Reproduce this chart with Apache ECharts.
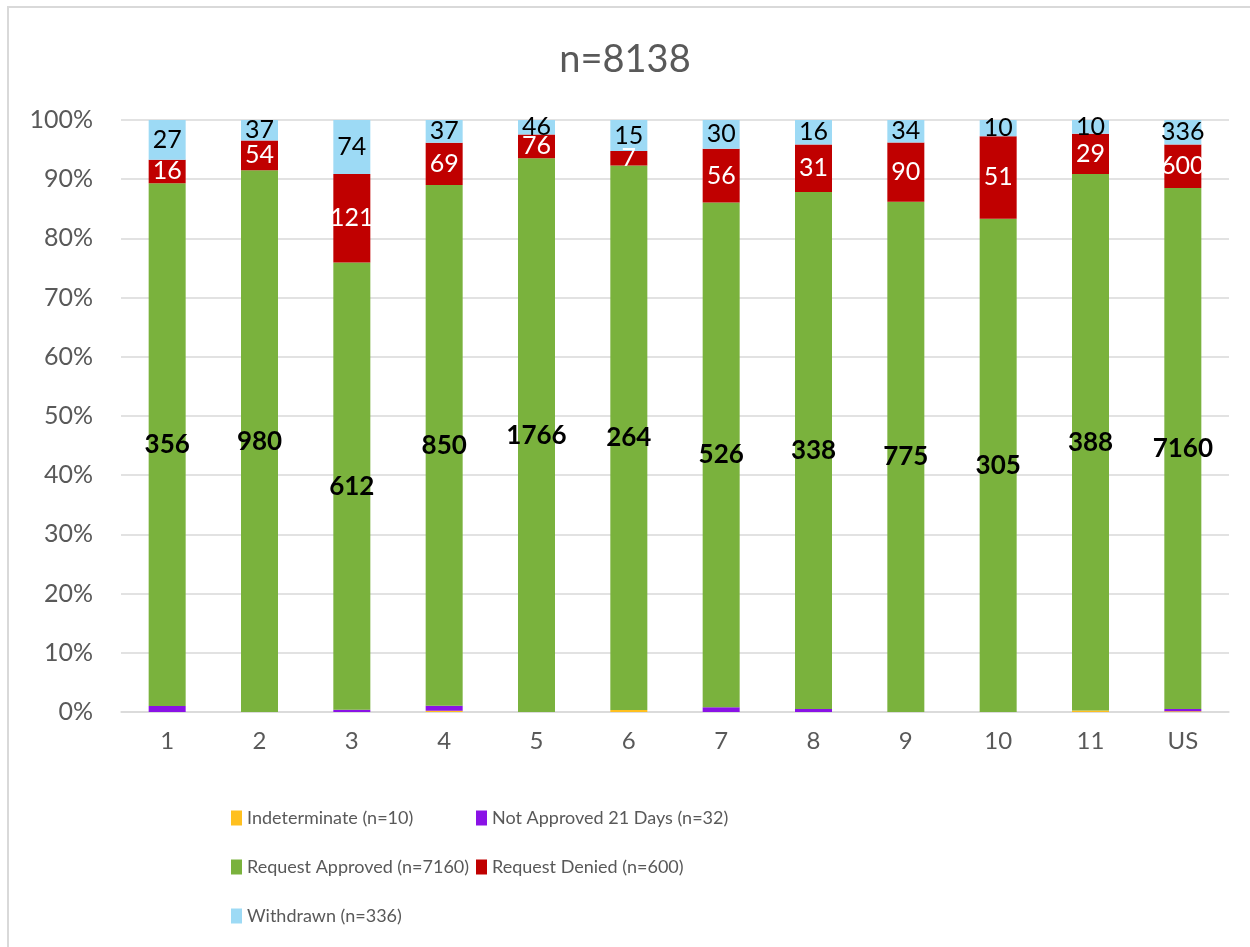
<!DOCTYPE html>
<html>
<head>
<meta charset="utf-8">
<title>n=8138</title>
<script src="https://cdn.jsdelivr.net/npm/echarts@6/dist/echarts.min.js"></script>
<style>
html, body { margin: 0; padding: 0; background: #fff; }
#frame { position: absolute; left: 7px; top: 6px; width: 1243px; height: 941px;
  border-left: 2px solid #d9d9d9; border-top: 2px solid #d9d9d9; box-sizing: border-box; }
#main { position: absolute; left: 0; top: 0; width: 1250px; height: 947px; }
</style>
</head>
<body>
<div id="frame"></div>
<div id="main"></div>
<script>
var categories = ['1', '2', '3', '4', '5', '6', '7', '8', '9', '10', '11', 'US'];
var yTicks = ['0%', '10%', '20%', '30%', '40%', '50%', '60%', '70%', '80%', '90%', '100%'];

// counts per region (read off the picture; the tiny ones are estimated from bar heights)
var indeterminate = [0, 0, 0, 2, 0, 1, 0, 0, 0, 0, 1, 10];
var notApproved   = [4, 0, 3, 8, 0, 0, 5, 2, 0, 0, 0, 32];
var approved      = [356, 980, 612, 850, 1766, 264, 526, 338, 775, 305, 388, 7160];
var denied        = [16, 54, 121, 69, 76, 7, 56, 31, 90, 51, 29, 600];
var withdrawn     = [27, 37, 74, 37, 46, 15, 30, 16, 34, 10, 10, 336];

var seriesNames = ['Indeterminate (n=10)', 'Not Approved 21 Days (n=32)',
    'Request Approved (n=7160)', 'Request Denied (n=600)', 'Withdrawn (n=336)'];
var seriesColors = ['#ffc01f', '#8a12e6', '#7ab23d', '#c00000', '#9ddaf5'];

var fontFam = 'Lato, "Open Sans", sans-serif';

(function () {
    var counts = [indeterminate, notApproved, approved, denied, withdrawn];
    var totals = [];
    for (var i = 0; i < categories.length; i++) {
        var t = 0;
        for (var k = 0; k < counts.length; k++) t += counts[k][i];
        totals[i] = t;
    }

    // labels: only approved (bold black), denied (white), withdrawn (black)
    var labelStyle = [
        { show: false },
        { show: false },
        { show: true, color: '#000', fontWeight: 'bold', fontSize: 26 },
        { show: true, color: '#fff', fontSize: 25 },
        { show: true, color: '#000', fontSize: 25 }
    ];

    var series = [];
    for (var k = 0; k < counts.length; k++) {
        var data = [];
        for (var i = 0; i < categories.length; i++) {
            data.push({ value: counts[k][i] / totals[i] * 100, count: counts[k][i] });
        }
        var lbl = labelStyle[k];
        series.push({
            name: seriesNames[k],
            type: 'bar',
            stack: 'all',
            barWidth: 37,
            data: data,
            itemStyle: { color: seriesColors[k] },
            label: {
                show: lbl.show,
                position: 'inside',
                color: lbl.color,
                fontWeight: lbl.fontWeight || 'normal',
                fontSize: lbl.fontSize,
                fontFamily: fontFam,
                formatter: function (p) { return p.data.count; }
            },
            labelLayout: { hideOverlap: false },
            emphasis: { disabled: true }
        });
    }

    var legendText = { color: '#595959', fontSize: 18, fontFamily: fontFam };

    var chart = echarts.init(document.getElementById('main'));
    chart.setOption({
        animation: false,
        title: {
            text: 'n=8138',
            left: 'center',
            top: 36,
            textStyle: { color: '#595959', fontSize: 38, fontWeight: 'normal', fontFamily: fontFam }
        },
        legend: [{
            orient: 'vertical',
            left: 226,
            top: 804,
            itemWidth: 11,
            itemHeight: 15,
            itemGap: 31,
            icon: 'rect',
            data: [seriesNames[0], seriesNames[2], seriesNames[4]],
            textStyle: legendText
        }, {
            orient: 'vertical',
            left: 471,
            top: 804,
            itemWidth: 11,
            itemHeight: 15,
            itemGap: 31,
            icon: 'rect',
            data: [seriesNames[1], seriesNames[3]],
            textStyle: legendText
        }],
        grid: { left: 121, right: 21, top: 120, bottom: 235 },
        xAxis: {
            type: 'category',
            data: categories,
            axisLine: { lineStyle: { color: '#d9d9d9', width: 1.5 } },
            axisTick: { show: false },
            axisLabel: { color: '#595959', fontSize: 24, fontFamily: fontFam, margin: 17 }
        },
        yAxis: {
            type: 'value',
            min: 0,
            max: 100,
            interval: 10,
            axisLine: { show: false },
            axisTick: { show: false },
            splitLine: { lineStyle: { color: '#d9d9d9', width: 1.5 } },
            axisLabel: {
                color: '#595959', fontSize: 25, fontFamily: fontFam, margin: 28,
                formatter: function (v) { return yTicks[Math.round(v / 10)]; }
            }
        },
        series: series
    });
})();
</script>
</body>
</html>
